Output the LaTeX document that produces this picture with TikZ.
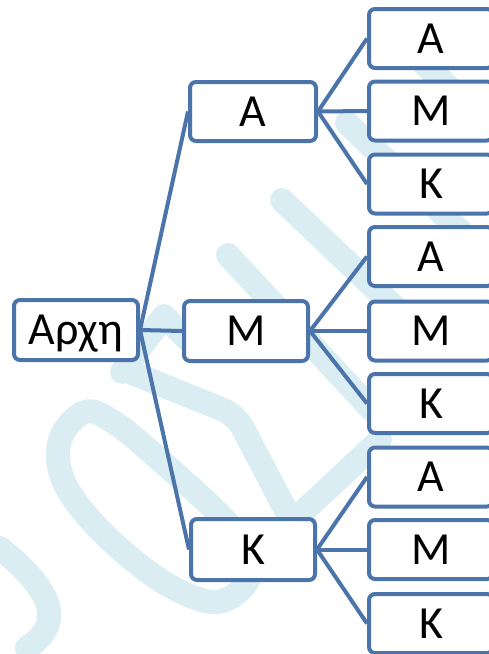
\documentclass[tikz,border=0pt]{standalone}
\usepackage{fontspec}
\setmainfont{Carlito}
\pgfdeclarelayer{wm}
\pgfdeclarelayer{links}
\pgfsetlayers{wm,links,main}
\definecolor{edgeblue}{RGB}{74,116,170}
\definecolor{wmblue}{RGB}{218,237,242}
\tikzset{
  box/.style={draw=edgeblue, line width=4pt, rounded corners=6pt, fill=white,
    minimum width=124pt, minimum height=60pt, inner sep=0pt,
    text height=29.5pt, text depth=0pt, font=\fontsize{46}{46}\selectfont},
  link/.style={draw=edgeblue, line width=4pt},
  wmark/.style={draw=wmblue, line width=24pt, line cap=round, line join=round}
}
\begin{document}
\begin{tikzpicture}[x=1pt,y=-1pt]
\useasboundingbox (0,0) rectangle (489,654);

% root and second level
\node[box] (r) at (76,330) {Αρχη};
\node[box, minimum width=126pt, minimum height=59pt] (a) at (253,111.5) {Α};
\node[box] (m) at (246,331) {Μ};
\node[box, minimum height=61pt] (k) at (253,549.5) {Κ};

% third level
\foreach \n/\t/\y in {aa/Α/38.5, am/Μ/111, ak/Κ/184,
                      ma/Α/256.5, mm/Μ/331, mk/Κ/403.5,
                      ka/Α/477, km/Μ/549.5, kk/Κ/623.5}
  \node[box, minimum height=59pt] (\n) at (431,\y) {\t};

% connectors
\begin{pgfonlayer}{links}
  \foreach \c in {a,m,k} \draw[link] (r.east) -- (\c.west);
  \foreach \p in {a,m,k}
    \foreach \c in {a,m,k}
      \draw[link] (\p.east) -- (\p\c.west);
\end{pgfonlayer}

% faint background strokes
\begin{pgfonlayer}{wm}
  \draw[wmark] (282,200) -- (410,322);
  \draw[wmark] (228,255) -- (372,410);
  \draw[wmark] (347,123) -- (470,240);
  \draw[wmark] (420,60) -- (489,125);
  \draw[wmark] (122,372) -- (164,316) -- (192,344);
  \draw[wmark, rounded corners=14pt] (130,372) -- (236,415) -- (292,522) -- (380,440);
  \draw[wmark] plot[smooth cycle, tension=0.6] coordinates {
    (85,412) (60,440) (64,482) (100,530) (160,580) (213,602) (245,585)
    (250,555) (225,520) (160,460) (115,423)};
  \draw[wmark] (0,548) .. controls (45,585) and (70,620) .. (27,648);
\end{pgfonlayer}
\end{tikzpicture}
\end{document}
